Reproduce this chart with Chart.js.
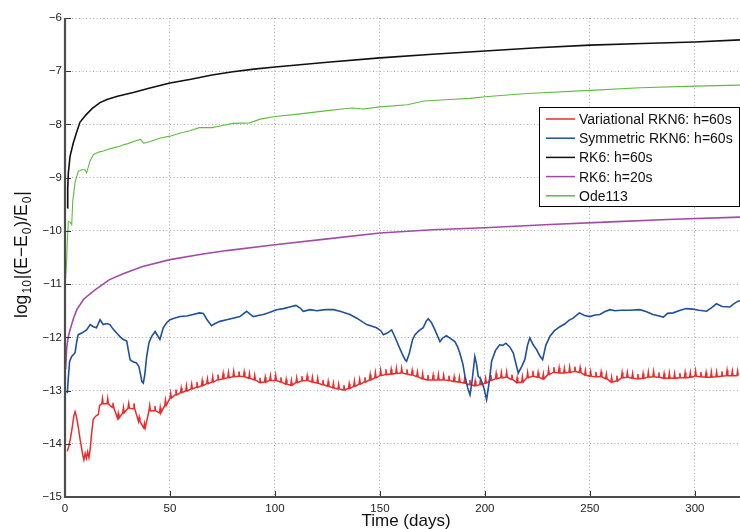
<!DOCTYPE html>
<html>
<head>
<meta charset="utf-8">
<script src="https://cdn.jsdelivr.net/npm/chart.js@4.4.0/dist/chart.umd.min.js"></script>
<style>
	html, body { margin: 0; padding: 0; background: #fff; }
	#wrap { width: 740px; height: 529px; position: relative; }
</style>
</head>
<body>
<div id="wrap"><canvas id="energi"></canvas></div>
<script>
// data (time in days, log10 relative energy error)
const seriesNames = ["Variational RKN6: h=60s", "Symmetric RKN6: h=60s", "RK6: h=60s", "RK6: h=20s", "Ode113"];
const xTicks = [0, 50, 100, 150, 200, 250, 300];
const yTicks = [-15, -14, -13, -12, -11, -10, -9, -8, -7, -6];

// variational RKN6: smooth start, then small teeth every 2.5 days
const redEarlyT = [1.1, 1.8, 2.6, 3.4, 4.2, 4.8, 5.5, 6.3, 7.2, 7.9, 8.5, 9.0, 9.6, 10.2, 10.8, 11.4, 12.0, 12.7, 13.4, 14.2, 15.0, 15.9, 16.5];
const redEarlyV = [-14.14, -14.05, -13.90, -13.70, -13.48, -13.40, -13.50, -13.68, -13.92, -14.08, -14.22, -14.30, -14.18, -14.27, -14.15, -14.26, -14.10, -13.80, -13.55, -13.50, -13.47, -13.45, -13.28];
const redTeethStart = 17.5;
const redTeethStep = 2.5;
const redBase = [-13.25, -13.25, -13.32, -13.52, -13.42, -13.33, -13.34, -13.58, -13.70, -13.38,
	-13.38, -13.42, -13.28, -13.14, -13.08, -13.04, -13.01, -12.97, -12.94, -12.91,
	-12.87, -12.84, -12.80, -12.78, -12.76, -12.74, -12.73, -12.74, -12.77, -12.80,
	-12.85, -12.84, -12.81, -12.81, -12.84, -12.88, -12.90, -12.85, -12.82, -12.81,
	-12.84, -12.86, -12.89, -12.92, -12.95, -12.97, -12.99, -12.96, -12.92, -12.88,
	-12.84, -12.80, -12.76, -12.72, -12.70, -12.69, -12.68, -12.67, -12.69, -12.71,
	-12.74, -12.78, -12.80, -12.80, -12.80, -12.80, -12.81, -12.83, -12.84, -12.86,
	-12.89, -12.91, -12.89, -12.86, -12.81, -12.78, -12.76, -12.75, -12.79, -12.85,
	-12.84, -12.76, -12.73, -12.75, -12.78, -12.70, -12.66, -12.67, -12.67, -12.66,
	-12.64, -12.66, -12.71, -12.73, -12.74, -12.74, -12.78, -12.84, -12.82, -12.76,
	-12.75, -12.77, -12.78, -12.77, -12.75, -12.74, -12.75, -12.77, -12.77, -12.77,
	-12.76, -12.76, -12.75, -12.73, -12.74, -12.75, -12.75, -12.74, -12.73, -12.72,
	-12.72, -12.72];
const redTop = [-13.15, -13.15, -13.23, -13.43, -13.32, -13.24, -13.24, -13.50, -13.62, -13.28,
	-13.29, -13.32, -13.18, -13.05, -12.98, -12.95, -12.91, -12.88, -12.84, -12.81,
	-12.78, -12.74, -12.70, -12.68, -12.66, -12.64, -12.64, -12.65, -12.68, -12.71,
	-12.76, -12.75, -12.72, -12.71, -12.75, -12.79, -12.81, -12.76, -12.73, -12.72,
	-12.75, -12.77, -12.80, -12.83, -12.86, -12.88, -12.90, -12.87, -12.82, -12.79,
	-12.75, -12.70, -12.66, -12.62, -12.60, -12.60, -12.58, -12.58, -12.60, -12.62,
	-12.65, -12.68, -12.71, -12.71, -12.70, -12.71, -12.72, -12.74, -12.75, -12.77,
	-12.80, -12.82, -12.80, -12.77, -12.71, -12.68, -12.66, -12.65, -12.70, -12.76,
	-12.74, -12.66, -12.63, -12.66, -12.69, -12.60, -12.56, -12.57, -12.58, -12.56,
	-12.55, -12.57, -12.62, -12.64, -12.65, -12.65, -12.69, -12.75, -12.72, -12.66,
	-12.66, -12.68, -12.69, -12.68, -12.65, -12.64, -12.66, -12.68, -12.67, -12.68,
	-12.67, -12.66, -12.66, -12.63, -12.65, -12.66, -12.65, -12.65, -12.64, -12.62,
	-12.63, -12.63];

// symmetric RKN6
const blueT = [1.1, 1.6, 2.2, 3.2, 4.8, 5.5, 6.3, 8, 10.3, 12, 13.5, 15, 16.7, 18.2, 20, 21.4, 23, 24.6, 26.5, 27.8,
	29.4, 30.2, 31, 32.5, 34, 35.2, 36, 36.6, 37.3, 38, 38.9, 40, 41.3, 42.9, 44, 45.2, 46.8, 48.5, 50, 52,
	54.8, 58, 61, 64, 65.9, 67.5, 69.8, 71.5, 73.8, 77, 80, 83.3, 86.5, 88, 89.7, 92, 94.4, 97, 100.8, 104,
	107, 110, 112, 113.5, 116.7, 120, 124, 127.8, 131, 135.7, 139, 143.7, 148.4, 150.5, 151.6, 153.5, 155.6, 157, 158.7, 160.5,
	162, 162.7, 164, 165.5, 166.7, 168.5, 170.6, 172, 173, 174.5, 176.2, 177.5, 178.6, 180, 181.7, 183.5, 185.7, 187, 188, 189.5,
	190.5, 191.8, 192.9, 193.8, 195.2, 196, 196.8, 198, 199.5, 200.8, 202, 203.2, 205, 207, 208.5, 210, 211.8, 213.5, 214.8, 215.9,
	217.5, 219, 220.3, 221.4, 223, 224.6, 226.2, 227.5, 229, 231, 233, 235.7, 238, 240, 242, 245, 247.5, 250, 252.5, 254.8,
	257, 259.5, 262, 265, 269, 273.8, 277, 280, 283, 285, 287, 289.7, 293, 296, 299, 302, 305.6, 308, 310.3, 313,
	316.7, 318.5, 320.6, 322];
const blueV = [-13.05, -12.75, -12.45, -12.36, -12.29, -12.10, -11.95, -11.92, -11.86, -11.76, -11.80, -11.82, -11.67, -11.76, -11.74, -11.76, -11.85, -11.92, -12.00, -12.04,
	-12.07, -12.25, -12.42, -12.46, -12.48, -12.55, -12.70, -12.83, -12.86, -12.70, -12.36, -12.10, -11.98, -11.89, -11.96, -12.04, -11.82, -11.72, -11.67, -11.64,
	-11.61, -11.60, -11.57, -11.54, -11.55, -11.66, -11.78, -11.74, -11.70, -11.67, -11.64, -11.61, -11.51, -11.56, -11.61, -11.59, -11.57, -11.54, -11.48, -11.46,
	-11.43, -11.40, -11.45, -11.51, -11.48, -11.50, -11.48, -11.48, -11.51, -11.57, -11.64, -11.76, -11.82, -11.88, -11.95, -11.92, -11.86, -11.98, -12.14, -12.30,
	-12.42, -12.45, -12.30, -12.05, -11.95, -11.88, -11.82, -11.70, -11.65, -11.72, -11.86, -11.98, -12.08, -12.01, -11.97, -12.02, -12.08, -12.18, -12.29, -12.50,
	-12.73, -12.95, -13.08, -12.85, -12.36, -12.50, -12.73, -12.78, -12.95, -13.17, -12.85, -12.45, -12.25, -12.14, -12.15, -12.11, -12.18, -12.29, -12.50, -12.67,
	-12.55, -12.42, -12.15, -12.01, -12.14, -12.23, -12.35, -12.42, -12.15, -11.98, -11.88, -11.80, -11.75, -11.68, -11.64, -11.54, -11.59, -11.61, -11.58, -11.57,
	-11.52, -11.48, -11.50, -11.49, -11.49, -11.48, -11.52, -11.57, -11.60, -11.62, -11.55, -11.54, -11.49, -11.46, -11.47, -11.49, -11.51, -11.44, -11.37, -11.42,
	-11.43, -11.37, -11.32, -11.31];

// RK6 h=60s
const blackT = [1.1, 1.3, 1.6, 2.4, 3.95, 5.5, 7.1, 10, 13, 16.7, 20, 25, 32.5, 40, 50, 60, 70, 80, 90, 100, 125, 150, 175, 200, 225, 250, 275, 300, 322];
const blackV = [-9.57, -9.2, -8.91, -8.60, -8.35, -8.15, -7.96, -7.82, -7.70, -7.59, -7.53, -7.47, -7.40, -7.32, -7.22, -7.15, -7.07, -7.01, -6.96, -6.92, -6.83, -6.75, -6.68, -6.62, -6.56, -6.51, -6.48, -6.45, -6.41];

// RK6 h=20s
const purpleT = [0.3, 0.8, 1.5, 2.4, 4, 5.6, 9, 13.5, 21, 28, 37, 50, 65, 77, 100, 125, 150, 175, 200, 231, 260, 290, 322];
const purpleV = [-12.6, -12.2, -12.0, -11.86, -11.65, -11.48, -11.28, -11.13, -10.92, -10.80, -10.67, -10.54, -10.44, -10.37, -10.26, -10.15, -10.04, -9.98, -9.94, -9.88, -9.83, -9.78, -9.74];

// Ode113
const greenT = [0.3, 0.8, 1.2, 1.6, 2.5, 3.2, 3.7, 4.8, 6.3, 8, 9.5, 10.3, 11.9, 13.5, 16, 18.2, 21, 23, 26, 27.8,
	30, 34, 36, 37.5, 39, 42, 45, 50, 55, 59.5, 64, 70, 75, 80, 88, 93, 100, 110, 123, 134,
	137, 142, 150, 163, 171, 183, 193, 200, 220, 250, 274, 300, 322];
const greenV = [-10.9, -10.55, -10.1, -9.82, -9.84, -9.88, -9.44, -9.09, -8.88, -8.85, -8.85, -8.91, -8.69, -8.57, -8.52, -8.50, -8.46, -8.44, -8.41, -8.38,
	-8.36, -8.30, -8.28, -8.35, -8.34, -8.30, -8.26, -8.22, -8.16, -8.12, -8.06, -8.06, -8.02, -7.98, -7.97, -7.90, -7.85, -7.81, -7.75, -7.70,
	-7.69, -7.71, -7.67, -7.63, -7.56, -7.53, -7.51, -7.48, -7.42, -7.36, -7.31, -7.28, -7.26];

const colors = ["#ec2b2b", "#1f4f9f", "#111111", "#a34aa9", "#5cbd3f"];

function pairs(ts, vs) {
	return ts.map((t, i) => ({ x: t, y: vs[i] }));
}

// each tooth: base, quick rise to the top, quick drop back to the base
let redPoints = pairs(redEarlyT, redEarlyV);
redBase.forEach((v, i) => {
	let t = redTeethStart + i * redTeethStep;
	redPoints.push({ x: t, y: v });
	redPoints.push({ x: t + 0.35, y: redTop[i] });
	redPoints.push({ x: t + 0.7, y: v });
});

const allPoints = [redPoints, pairs(blueT, blueV), pairs(blackT, blackV), pairs(purpleT, purpleV), pairs(greenT, greenV)];
const lineWidths = [1.5, 1.6, 1.6, 1.6, 1.1];

// axis titles, inward ticks, axis lines and the boxed legend
const extras = {
	id: "extras",
	afterDraw(chart) {
		const ctx = chart.ctx;
		const xs = chart.scales.x;
		const ys = chart.scales.y;
		const area = chart.chartArea;
		ctx.save();

		// inward major ticks
		ctx.strokeStyle = "#333";
		ctx.lineWidth = 1;
		ctx.beginPath();
		xTicks.forEach((t) => {
			let px = Math.round(xs.getPixelForValue(t)) + 0.5;
			ctx.moveTo(px, area.bottom);
			ctx.lineTo(px, area.bottom - 6);
		});
		yTicks.forEach((v) => {
			let py = Math.round(ys.getPixelForValue(v)) + 0.5;
			ctx.moveTo(area.left, py);
			ctx.lineTo(area.left + 6, py);
		});
		ctx.stroke();

		// axis lines
		ctx.strokeStyle = "#4d4d4d";
		ctx.lineWidth = 2.2;
		ctx.beginPath();
		ctx.moveTo(area.left, area.top);
		ctx.lineTo(area.left, area.bottom);
		ctx.lineTo(area.right, area.bottom);
		ctx.stroke();

		// x title
		ctx.fillStyle = "#111";
		ctx.font = "17px 'Liberation Sans', Arial, sans-serif";
		ctx.textAlign = "center";
		ctx.textBaseline = "alphabetic";
		ctx.fillText("Time (days)", 406, 526);

		// y title with subscripts
		const parts = [["log", 0], ["10", 1], ["|(E\u2212E", 0], ["0", 1], [")/E", 0], ["0", 1], ["|", 0]];
		ctx.translate(26.5, 318);
		ctx.rotate(-Math.PI / 2);
		ctx.textAlign = "left";
		let pos = 0;
		parts.forEach(([txt, sub]) => {
			ctx.font = sub ? "12px 'Liberation Sans', Arial, sans-serif" : "17.5px 'Liberation Sans', Arial, sans-serif";
			ctx.fillText(txt, pos, sub ? 4.5 : 0);
			pos += ctx.measureText(txt).width + (sub ? 0.8 : 1.2);
		});
		ctx.restore();

		// legend
		ctx.save();
		ctx.fillStyle = "#fff";
		ctx.fillRect(539.5, 107.5, 200, 99);
		ctx.strokeStyle = "#000";
		ctx.lineWidth = 1;
		ctx.strokeRect(539.5, 107.5, 200, 99);
		ctx.font = "14px 'Liberation Sans', Arial, sans-serif";
		ctx.textAlign = "left";
		ctx.textBaseline = "alphabetic";
		seriesNames.forEach((name, i) => {
			let y = 119 + i * 19.2;
			ctx.strokeStyle = colors[i];
			ctx.lineWidth = 1.5;
			ctx.beginPath();
			ctx.moveTo(546, y);
			ctx.lineTo(575, y);
			ctx.stroke();
			ctx.fillStyle = "#111";
			ctx.fillText(name, 579, y + 5);
		});
		ctx.restore();
	},
};

const tickFont = { family: "'Liberation Sans', Arial, sans-serif", size: 11.5 };

let energi = document.getElementById("energi").getContext("2d");
let energiChart = new Chart(energi, {
	type: "line",
	data: {
		datasets: seriesNames.map((name, i) => ({
			label: name,
			data: allPoints[i],
			borderColor: colors[i],
			backgroundColor: colors[i],
			borderWidth: lineWidths[i],
			pointRadius: 0,
			tension: 0,
			fill: false,
			order: 5 - i,
		})),
	},
	options: {
		responsive: true,
		maintainAspectRatio: false,
		animation: false,
		events: [],
		layout: { padding: { top: 18, left: 0, right: 0, bottom: 0 } },
		plugins: {
			legend: { display: false },
			tooltip: { enabled: false },
		},
		scales: {
			x: {
				type: "linear",
				min: 0,
				max: 321.5,
				afterFit(s) { s.height = 32; },
				afterBuildTicks(s) { s.ticks = xTicks.map((v) => ({ value: v })); },
				ticks: { includeBounds: false, font: tickFont, color: "#222", padding: 5, maxRotation: 0 },
				grid: { color: "#a8a8a8", lineWidth: 1, drawTicks: false },
				border: { display: false, dash: [1, 2.5] },
			},
			y: {
				min: -15,
				max: -6,
				afterFit(s) { s.width = 65; },
				afterBuildTicks(s) { s.ticks = yTicks.map((v) => ({ value: v })); },
				ticks: {
					font: tickFont,
					color: "#222",
					padding: 3,
					callback: (v) => "\u2212" + Math.abs(v),
				},
				grid: { color: "#a8a8a8", lineWidth: 1, drawTicks: false },
				border: { display: false, dash: [1, 2.5] },
			},
		},
	},
	plugins: [extras],
});
</script>
</body>
</html>
